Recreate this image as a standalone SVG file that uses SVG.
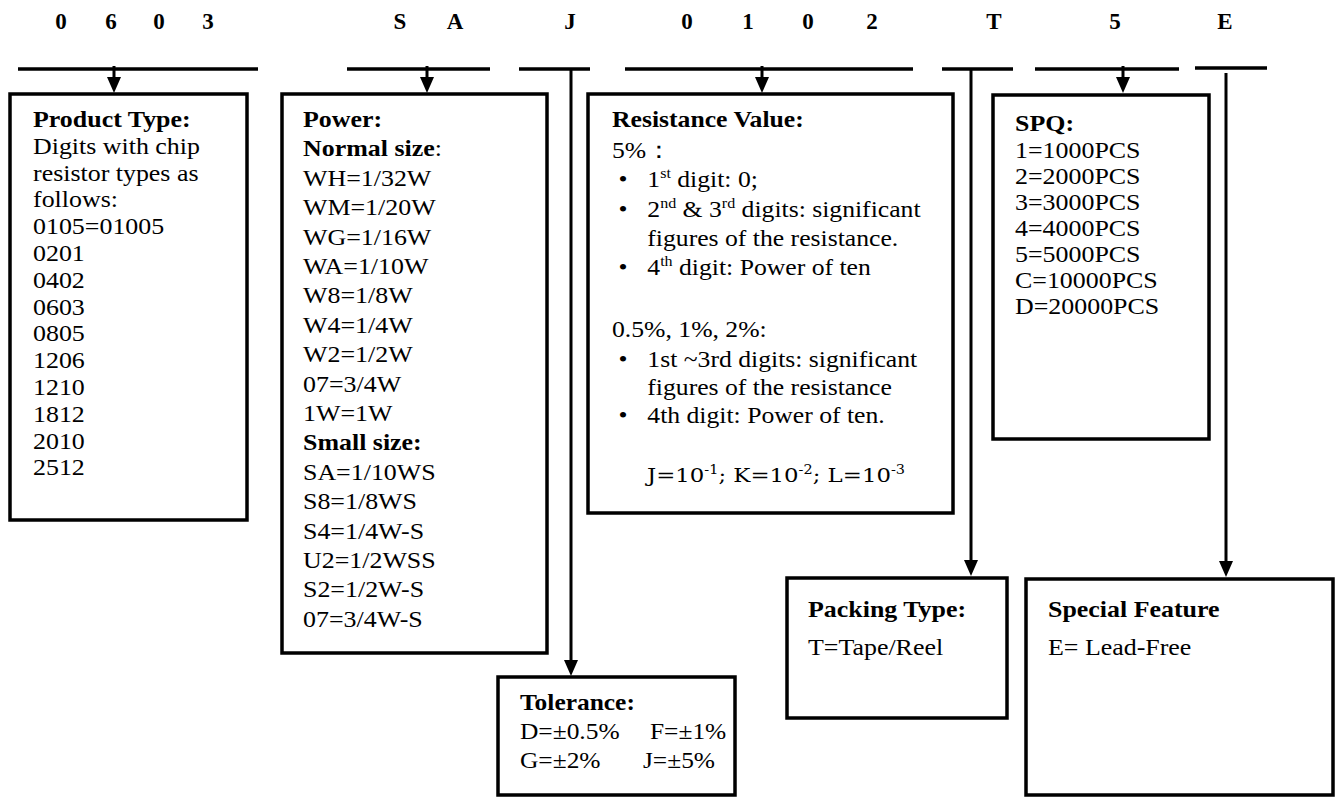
<svg xmlns="http://www.w3.org/2000/svg" width="1338" height="798" viewBox="0 0 1338 798">
<defs>
<style>
.box{fill:#fff;stroke:#000;stroke-width:3.5}
.seg{stroke:#000;stroke-width:3.5}
.conn{stroke:#000;stroke-width:3;fill:none}
.t{font-family:"Liberation Serif","Times New Roman",serif;font-size:24px;fill:#000}
.b{font-weight:bold}
.code{font-family:"Liberation Serif","Times New Roman",serif;font-weight:bold;font-size:23px;text-anchor:middle;fill:#000}
.sup{font-size:15px}
.cam{font-family:"DejaVu Serif",serif;font-size:19px;fill:#000}
</style>
<marker id="arr" markerUnits="userSpaceOnUse" markerWidth="16" markerHeight="14" viewBox="0 0 16 14" refX="10" refY="7" orient="auto">
<path d="M0,0 L16,7 L0,14 z" fill="#000"/>
</marker>
</defs>
<rect width="1338" height="798" fill="#fff"/>

<g id="code">
<text class="code" x="61" y="29">0</text>
<text class="code" x="111" y="29">6</text>
<text class="code" x="159" y="29">0</text>
<text class="code" x="208" y="29">3</text>
<text class="code" x="400" y="29">S</text>
<text class="code" x="455" y="29">A</text>
<text class="code" x="570" y="29">J</text>
<text class="code" x="687" y="29">0</text>
<text class="code" x="748" y="29">1</text>
<text class="code" x="808" y="29">0</text>
<text class="code" x="872" y="29">2</text>
<text class="code" x="994" y="29">T</text>
<text class="code" x="1115" y="29">5</text>
<text class="code" x="1225" y="29">E</text>
</g>

<g id="connectors">
<line class="seg" x1="18" y1="69" x2="258" y2="69"/>
<line class="seg" x1="347" y1="69" x2="490" y2="69"/>
<line class="seg" x1="519" y1="69" x2="590" y2="69"/>
<line class="seg" x1="625" y1="69" x2="913" y2="69"/>
<line class="seg" x1="942" y1="69" x2="1013" y2="69"/>
<line class="seg" x1="1035" y1="69" x2="1179" y2="69"/>
<line class="seg" x1="1195" y1="68" x2="1267" y2="68"/>
<line class="conn" x1="114" y1="66" x2="114" y2="87" marker-end="url(#arr)"/>
<line class="conn" x1="427" y1="66" x2="427" y2="87" marker-end="url(#arr)"/>
<line class="conn" x1="762" y1="66" x2="762" y2="87" marker-end="url(#arr)"/>
<line class="conn" x1="1123" y1="66" x2="1123" y2="87" marker-end="url(#arr)"/>
<line class="conn" x1="571" y1="69" x2="571" y2="670" marker-end="url(#arr)"/>
<line class="conn" x1="971" y1="69" x2="971" y2="570" marker-end="url(#arr)"/>
<line class="conn" x1="1226" y1="73" x2="1226" y2="571" marker-end="url(#arr)"/>
</g>

<g id="product-type">
<rect class="box" x="10" y="94" width="237" height="426"/>
<g transform="translate(33,0) scale(1.08,1)">
<text class="t b" x="0" y="127">Product Type:</text>
<text class="t" x="0" y="153.8">Digits with chip</text>
<text class="t" x="0" y="180.6">resistor types as</text>
<text class="t" x="0" y="207.4">follows:</text>
<text class="t" x="0" y="234.2">0105=01005</text>
<text class="t" x="0" y="261">0201</text>
<text class="t" x="0" y="287.8">0402</text>
<text class="t" x="0" y="314.6">0603</text>
<text class="t" x="0" y="341.4">0805</text>
<text class="t" x="0" y="368.2">1206</text>
<text class="t" x="0" y="395">1210</text>
<text class="t" x="0" y="421.8">1812</text>
<text class="t" x="0" y="448.6">2010</text>
<text class="t" x="0" y="475.4">2512</text>
</g>
</g>

<g id="power">
<rect class="box" x="282" y="94" width="265" height="559"/>
<g transform="translate(303,0) scale(1.08,1)">
<text class="t b" x="0" y="127">Power:</text>
<text class="t" x="0" y="156.4"><tspan class="b">Normal size</tspan>:</text>
<text class="t" x="0" y="185.8">WH=1/32W</text>
<text class="t" x="0" y="215.2">WM=1/20W</text>
<text class="t" x="0" y="244.6">WG=1/16W</text>
<text class="t" x="0" y="274">WA=1/10W</text>
<text class="t" x="0" y="303.4">W8=1/8W</text>
<text class="t" x="0" y="332.8">W4=1/4W</text>
<text class="t" x="0" y="362.2">W2=1/2W</text>
<text class="t" x="0" y="391.6">07=3/4W</text>
<text class="t" x="0" y="421">1W=1W</text>
<text class="t b" x="0" y="450.4">Small size:</text>
<text class="t" x="0" y="479.8">SA=1/10WS</text>
<text class="t" x="0" y="509.2">S8=1/8WS</text>
<text class="t" x="0" y="538.6">S4=1/4W-S</text>
<text class="t" x="0" y="568">U2=1/2WSS</text>
<text class="t" x="0" y="597.4">S2=1/2W-S</text>
<text class="t" x="0" y="626.8">07=3/4W-S</text>
</g>
</g>

<g id="tolerance">
<rect class="box" x="498" y="677" width="237" height="118"/>
<g transform="translate(520,0) scale(1.06,1)">
<text class="t b" x="0" y="710">Tolerance:</text>
<text class="t" x="0" y="739">D=±0.5%</text>
<text class="t" x="122.6" y="739">F=±1%</text>
<text class="t" x="0" y="768">G=±2%</text>
<text class="t" x="116" y="768">J=±5%</text>
</g>
</g>

<g id="resistance-value">
<rect class="box" x="588" y="94" width="365" height="419"/>
<g transform="translate(612,0) scale(1.07,1)">
<text class="t b" x="0" y="127">Resistance Value:</text>
<text class="t" x="0" y="158">5%：</text>
<text class="t" x="6" y="187">•</text>
<text class="t" x="33" y="187">1<tspan class="sup" dy="-9">st</tspan><tspan dy="9"> digit: 0;</tspan></text>
<text class="t" x="6" y="217">•</text>
<text class="t" x="33" y="217">2<tspan class="sup" dy="-9">nd</tspan><tspan dy="9"> &amp; 3</tspan><tspan class="sup" dy="-9">rd</tspan><tspan dy="9"> digits: significant</tspan></text>
<text class="t" x="33" y="246">figures of the resistance.</text>
<text class="t" x="6" y="275">•</text>
<text class="t" x="33" y="275">4<tspan class="sup" dy="-9">th</tspan><tspan dy="9"> digit: Power of ten</tspan></text>
<text class="t" x="0" y="337">0.5%, 1%, 2%:</text>
<text class="t" x="6" y="367">•</text>
<text class="t" x="33" y="367">1st ~3rd digits: significant</text>
<text class="t" x="33" y="395">figures of the resistance</text>
<text class="t" x="6" y="423">•</text>
<text class="t" x="33" y="423">4th digit: Power of ten.</text>
</g>
<text class="cam" x="647" y="482" textLength="258" lengthAdjust="spacingAndGlyphs">J=10<tspan font-size="12" dy="-8">-1</tspan><tspan dy="8">; K=10</tspan><tspan font-size="12" dy="-8">-2</tspan><tspan dy="8">; L=10</tspan><tspan font-size="12" dy="-8">-3</tspan></text>
</g>

<g id="packing-type">
<rect class="box" x="787" y="578" width="220" height="140"/>
<g transform="translate(808,0) scale(1.08,1)">
<text class="t b" x="0" y="617">Packing Type:</text>
<text class="t" x="0" y="655">T=Tape/Reel</text>
</g>
</g>

<g id="spq">
<rect class="box" x="993" y="95" width="216" height="344"/>
<g transform="translate(1015,0) scale(1.08,1)">
<text class="t b" x="0" y="131">SPQ:</text>
<text class="t" x="0" y="158">1=1000PCS</text>
<text class="t" x="0" y="184">2=2000PCS</text>
<text class="t" x="0" y="210">3=3000PCS</text>
<text class="t" x="0" y="236">4=4000PCS</text>
<text class="t" x="0" y="262">5=5000PCS</text>
<text class="t" x="0" y="288">C=10000PCS</text>
<text class="t" x="0" y="314">D=20000PCS</text>
</g>
</g>

<g id="special-feature">
<rect class="box" x="1026" y="579" width="307" height="216"/>
<g transform="translate(1048,0) scale(1.08,1)">
<text class="t b" x="0" y="617">Special Feature</text>
<text class="t" x="0" y="655">E= Lead-Free</text>
</g>
</g>
</svg>
